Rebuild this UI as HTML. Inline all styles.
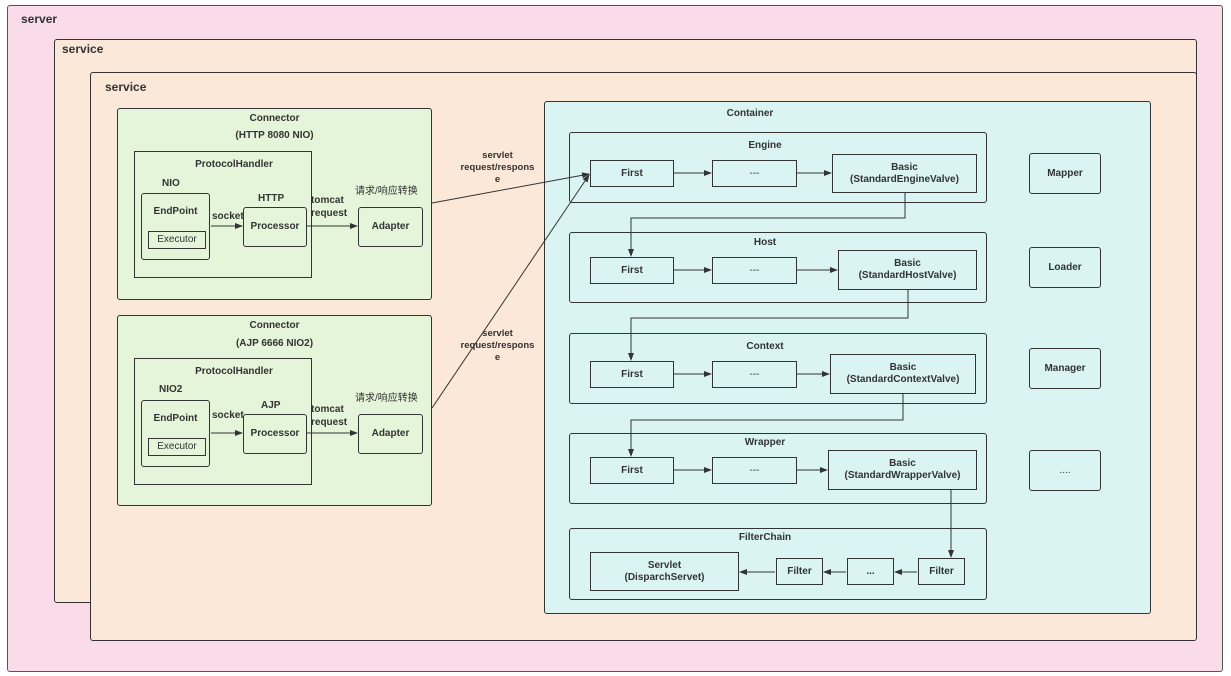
<!DOCTYPE html>
<html><head><meta charset="utf-8">
<style>
*{margin:0;padding:0;box-sizing:border-box}
body{width:1231px;height:676px;background:#fff;position:relative;overflow:hidden;font-family:"Liberation Sans","Noto Sans CJK SC",sans-serif;color:#333}
.b{position:absolute;border:1px solid #333;border-radius:3px}
.t{position:absolute;font-weight:bold;font-size:10px;text-align:center;line-height:13px;white-space:nowrap}
.n{position:absolute;border:1px solid #333;display:flex;align-items:center;justify-content:center;text-align:center;font-weight:bold;font-size:10px;line-height:12px}
.r{border-radius:3px}
svg{position:absolute;left:0;top:0}
</style></head><body>
<div class="b" style="left:7px;top:5px;width:1216px;height:667px;background:#f9dbe9;border-color:#555"></div>
<div class="t" style="left:21px;top:13px;font-size:12px">server</div>
<div class="b" style="left:54px;top:39px;width:1143px;height:564px;background:#fbe8d9"></div>
<div class="t" style="left:62px;top:43px;font-size:12px">service</div>
<div class="b" style="left:90px;top:72px;width:1107px;height:569px;background:#fbe8d9"></div>
<div class="t" style="left:105px;top:81px;font-size:12px">service</div>

<!-- Connector 1 -->
<div class="b" style="left:117px;top:108px;width:315px;height:192px;background:#e5f5da"></div>
<div class="t" style="left:117px;top:112px;width:315px">Connector</div>
<div class="t" style="left:117px;top:129px;width:315px">(HTTP 8080 NIO)</div>
<div class="b" style="left:134px;top:151px;width:178px;height:127px;border-radius:0"></div>
<div class="t" style="left:134px;top:158px;width:200px">ProtocolHandler</div>
<div class="t" style="left:162px;top:177px">NIO</div>
<div class="n r" style="left:141px;top:193px;width:69px;height:67px;align-items:flex-start;padding-top:12px">EndPoint</div>
<div class="n" style="left:148px;top:231px;width:58px;height:18px;font-weight:normal">Executor</div>
<div class="t" style="left:258px;top:192px">HTTP</div>
<div class="t" style="left:212px;top:210px">socket</div>
<div class="n r" style="left:243px;top:207px;width:64px;height:40px">Processor</div>
<div class="t" style="left:311px;top:194px;text-align:left">tomcat<br>request</div>
<div class="t" style="left:355px;top:185px;font-weight:normal">请求/响应转换</div>
<div class="n r" style="left:358px;top:207px;width:65px;height:40px">Adapter</div>

<!-- Connector 2 -->
<div class="b" style="left:117px;top:315px;width:315px;height:191px;background:#e5f5da"></div>
<div class="t" style="left:117px;top:319px;width:315px">Connector</div>
<div class="t" style="left:117px;top:337px;width:315px">(AJP 6666 NIO2)</div>
<div class="b" style="left:134px;top:358px;width:178px;height:127px;border-radius:0"></div>
<div class="t" style="left:134px;top:365px;width:200px">ProtocolHandler</div>
<div class="t" style="left:159px;top:383px">NIO2</div>
<div class="n r" style="left:141px;top:400px;width:69px;height:67px;align-items:flex-start;padding-top:12px">EndPoint</div>
<div class="n" style="left:148px;top:438px;width:58px;height:18px;font-weight:normal">Executor</div>
<div class="t" style="left:261px;top:399px">AJP</div>
<div class="t" style="left:212px;top:409px">socket</div>
<div class="n r" style="left:243px;top:414px;width:64px;height:40px">Processor</div>
<div class="t" style="left:311px;top:403px;text-align:left">tomcat<br>request</div>
<div class="t" style="left:355px;top:392px;font-weight:normal">请求/响应转换</div>
<div class="n r" style="left:358px;top:414px;width:65px;height:40px">Adapter</div>

<div class="t" style="left:455px;top:150px;width:85px;font-size:9.5px;line-height:12px">servlet<br>request/respons<br>e</div>
<div class="t" style="left:455px;top:328px;width:85px;font-size:9.5px;line-height:12px">servlet<br>request/respons<br>e</div>

<!-- Container -->
<div class="b" style="left:544px;top:101px;width:607px;height:513px;background:#daf4f4"></div>
<div class="t" style="left:700px;top:107px;width:100px">Container</div>

<div class="b" style="left:569px;top:132px;width:418px;height:71px"></div>
<div class="t" style="left:720px;top:139px;width:90px">Engine</div>
<div class="n" style="left:590px;top:160px;width:84px;height:27px">First</div>
<div class="n" style="left:712px;top:160px;width:85px;height:27px;font-weight:normal">---</div>
<div class="n" style="left:832px;top:154px;width:145px;height:39px">Basic<br>(StandardEngineValve)</div>

<div class="b" style="left:569px;top:232px;width:418px;height:71px"></div>
<div class="t" style="left:720px;top:236px;width:90px">Host</div>
<div class="n" style="left:590px;top:257px;width:84px;height:27px">First</div>
<div class="n" style="left:712px;top:257px;width:85px;height:27px;font-weight:normal">---</div>
<div class="n" style="left:838px;top:250px;width:139px;height:40px">Basic<br>(StandardHostValve)</div>

<div class="b" style="left:569px;top:333px;width:418px;height:71px"></div>
<div class="t" style="left:720px;top:340px;width:90px">Context</div>
<div class="n" style="left:590px;top:361px;width:84px;height:27px">First</div>
<div class="n" style="left:712px;top:361px;width:85px;height:27px;font-weight:normal">---</div>
<div class="n" style="left:830px;top:354px;width:146px;height:40px">Basic<br>(StandardContextValve)</div>

<div class="b" style="left:569px;top:433px;width:418px;height:71px"></div>
<div class="t" style="left:720px;top:436px;width:90px">Wrapper</div>
<div class="n" style="left:590px;top:457px;width:84px;height:27px">First</div>
<div class="n" style="left:712px;top:457px;width:85px;height:27px;font-weight:normal">---</div>
<div class="n" style="left:828px;top:450px;width:149px;height:40px">Basic<br>(StandardWrapperValve)</div>

<div class="b" style="left:569px;top:528px;width:418px;height:72px"></div>
<div class="t" style="left:720px;top:531px;width:90px">FilterChain</div>
<div class="n" style="left:590px;top:552px;width:149px;height:39px">Servlet<br>(DisparchServet)</div>
<div class="n" style="left:776px;top:558px;width:47px;height:27px">Filter</div>
<div class="n" style="left:847px;top:558px;width:47px;height:27px">...</div>
<div class="n" style="left:918px;top:558px;width:47px;height:27px">Filter</div>

<div class="n r" style="left:1029px;top:153px;width:72px;height:41px">Mapper</div>
<div class="n r" style="left:1029px;top:247px;width:72px;height:41px">Loader</div>
<div class="n r" style="left:1029px;top:348px;width:72px;height:41px">Manager</div>
<div class="n r" style="left:1029px;top:450px;width:72px;height:41px;font-weight:normal">....</div>

<svg width="1231" height="676">
<defs><marker id="a" markerWidth="8" markerHeight="8" refX="7" refY="4" orient="auto" markerUnits="userSpaceOnUse"><path d="M0,1 L8,4 L0,7z" fill="#333"/></marker></defs>
<g stroke="#333" stroke-width="1" fill="none" marker-end="url(#a)">
<line x1="211" y1="226" x2="242" y2="226"/>
<line x1="307" y1="226" x2="357" y2="226"/>
<line x1="211" y1="433" x2="242" y2="433"/>
<line x1="307" y1="433" x2="357" y2="433"/>
<line x1="432" y1="203" x2="589" y2="174"/>
<line x1="432" y1="408" x2="589" y2="175"/>
<line x1="674" y1="173" x2="711" y2="173"/>
<line x1="797" y1="173" x2="831" y2="173"/>
<line x1="674" y1="270" x2="711" y2="270"/>
<line x1="797" y1="270" x2="837" y2="270"/>
<line x1="674" y1="374" x2="711" y2="374"/>
<line x1="797" y1="374" x2="829" y2="374"/>
<line x1="674" y1="470" x2="711" y2="470"/>
<line x1="797" y1="470" x2="827" y2="470"/>
<polyline points="905,193 905,218 631,218 631,256"/>
<polyline points="908,290 908,318 631,318 631,360"/>
<polyline points="903,394 903,420 631,420 631,456"/>
<polyline points="951,490 951,557"/>
<line x1="917" y1="572" x2="895" y2="572"/>
<line x1="846" y1="572" x2="824" y2="572"/>
<line x1="775" y1="572" x2="740" y2="572"/>
</g>
</svg>
</body></html>
